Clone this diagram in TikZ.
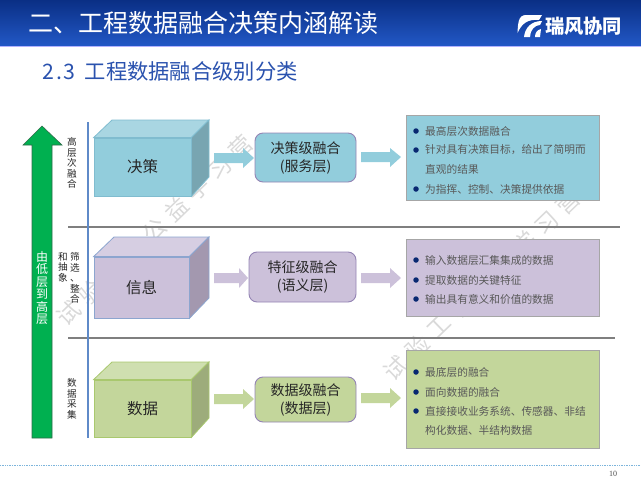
\documentclass[tikz,border=0pt]{standalone}
\usepackage{fontspec}
\usepackage{xcolor}
\setmainfont{Noto Sans CJK SC}
\newfontfamily\markfont[LetterSpace=30]{Noto Sans CJK SC}
\newfontfamily\numfont{Liberation Serif}
\usetikzlibrary{arrows.meta, positioning}
\definecolor{hdrtop}{HTML}{0A2F85}
\definecolor{hdrbot}{HTML}{2258C6}
\definecolor{subblue}{HTML}{2A52AE}
\definecolor{blueface}{HTML}{92CDDC}
\definecolor{bluetop}{HTML}{A9D6E2}
\definecolor{blueside}{HTML}{78A5B1}
\definecolor{blueedge}{HTML}{80BCCF}
\definecolor{purpface}{HTML}{CCC1DA}
\definecolor{purptop}{HTML}{D6CEE2}
\definecolor{purpside}{HTML}{A398AF}
\definecolor{purpedge}{HTML}{8CA5CF}
\definecolor{grnface}{HTML}{C3D69B}
\definecolor{grntop}{HTML}{CFDFB0}
\definecolor{grnside}{HTML}{9DAC7B}
\definecolor{grnedge}{HTML}{A9C86E}
\definecolor{rulegray}{HTML}{7F7F7F}
\definecolor{axisblue}{HTML}{5F8AC8}
\definecolor{upgreen}{HTML}{00B050}
\definecolor{upedge}{HTML}{2F6B4A}
\definecolor{footblue}{HTML}{7DB5DC}
\definecolor{levelpurp}{HTML}{9484B4}
\tikzset{
  cubeface/.style={draw, line width=0.8pt, inner sep=0pt, text=black!85,
    font=\fontsize{15.5}{18}\selectfont},
  levelbox/.style={draw=levelpurp, line width=0.9pt, rounded corners=8pt,
    inner sep=0pt, align=center, text=black!85, font=\fontsize{14}{18}\selectfont},
  notebox/.style={draw=black!35, line width=0.8pt, inner sep=0pt},
  noteline/.style={anchor=west, inner sep=0pt, text=black!65,
    font=\fontsize{10.7}{12}\selectfont},
  dotmark/.style={circle, fill=hdrtop!85!black, inner sep=0pt, minimum size=5.5pt},
  sidelabel/.style={align=center, inner sep=0pt, text=black!85,
    font=\fontsize{9.6}{10.6}\selectfont},
  stamp/.style={rotate=44, inner sep=0pt, text=black!15, font=\markfont\fontsize{23}{25}\selectfont},
}
\begin{document}
\begin{tikzpicture}[x=1pt, y=-1pt]
  \useasboundingbox (0,0) rectangle (641,482);
  % cabecalho
  \shade[top color=hdrtop, bottom color=hdrbot] (0,0) rectangle (641,46);
  \fill[blue!30!white] (0,46) rectangle (641,47);
  \node[anchor=west, inner sep=0pt, text=white, font=\fontsize{25}{26}\selectfont]
    (title) at (28,23.5) {二、工程数据融合决策内涵解读};
  \node[anchor=west, inner sep=0pt, text=subblue, font=\fontsize{21.3}{22}\selectfont]
    (subtitle) at (42,71) {2\hspace{2pt}.\hspace{2pt}3\hspace{9pt}工程数据融合级别分类};
  % marca
  \fill[white] (517.5,33) .. controls (518,24) and (518,15) .. (526,15) -- (542,15)
    -- (539,20) .. controls (528,19) and (522,23) .. (517.5,33) -- cycle;
  \fill[white] (524,37) .. controls (525,28) and (531,21) .. (542,21)
    -- (540,25) .. controls (535,25) and (530,30) .. (530,37) -- cycle;
  \fill[white] (535,37) .. controls (535,33) and (537,30) .. (541,29)
    -- (540,37) -- cycle;
  \node[anchor=west, inner sep=0pt, text=white, font=\bfseries\fontsize{19.2}{20}\selectfont]
    (brand) at (545,26) {瑞风协同};
  % marca d'agua
  \node[stamp] (stampa) at (155,230) {试验工程公益学习营};
  \node[stamp] (stampb) at (482,285) {试验工程公益学习营};
  % linhas
  \draw[rulegray, line width=2pt] (68,227) -- (620,227);
  \draw[rulegray, line width=2pt] (68,338) -- (615,338);
  \draw[axisblue, line width=1.3pt] (88,122) -- (88,438);
  % seta verde
  \draw[fill=upgreen, draw=upedge, line width=0.6pt]
    (32,438) -- (32,145) -- (23,145) -- (42,126) -- (62,145) -- (52,145) -- (52,438) -- cycle;
  \node[inner sep=0pt, align=center, text=white, font=\fontsize{12}{12.4}\selectfont]
    (uplabel) at (42,288) {由\\低\\层\\到\\高\\层};
  \node[sidelabel] (topnote) at (72,163) {高\\层\\次\\融\\合};
  \node[sidelabel] (midnotea) at (75,278) {筛\\选\\、\\整\\合};
  \node[sidelabel] (midnoteb) at (63,267) {和\\抽\\象};
  \node[sidelabel] (lownote) at (72,399) {数\\据\\采\\集};
  % cubo superior
  \node[cubeface, draw=blueedge, fill=blueface, minimum width=97pt, minimum height=58pt]
    (decide) at (142.5,167) {决策};
  \draw[blueedge, fill=bluetop, line width=0.8pt] (decide.north west) -- (112,120) -- (209,120) -- (decide.north east) -- cycle;
  \draw[blueedge, fill=blueside, line width=0.8pt] (decide.north east) -- (209,120) -- (209,177) -- (decide.south east) -- cycle;
  % cubo medio
  \node[cubeface, draw=purpedge, fill=purpface, minimum width=95pt, minimum height=61pt]
    (inform) at (141.5,287.5) {信息};
  \draw[purpedge, fill=purptop, line width=0.8pt] (inform.north west) -- (114,237) -- (209,237) -- (inform.north east) -- cycle;
  \draw[purpedge, fill=purpside, line width=0.8pt] (inform.north east) -- (209,237) -- (209,298) -- (inform.south east) -- cycle;
  % cubo inferior
  \node[cubeface, draw=grnedge, fill=grnface, minimum width=97pt, minimum height=57pt]
    (rawdata) at (142.5,408.5) {数据};
  \draw[grnedge, fill=grntop, line width=0.8pt] (rawdata.north west) -- (112,362) -- (209,362) -- (rawdata.north east) -- cycle;
  \draw[grnedge, fill=grnside, line width=0.8pt] (rawdata.north east) -- (209,362) -- (209,418) -- (rawdata.south east) -- cycle;
  % setas
  \fill[blueface] (214,153) -- (243,153) -- (243,148) -- (254,158) -- (243,168) -- (243,163) -- (214,163) -- cycle;
  \fill[purpface] (214,273) -- (239,273) -- (239,268) -- (248,278) -- (239,288) -- (239,283) -- (214,283) -- cycle;
  \fill[grnface] (214,394) -- (243,394) -- (243,389) -- (254,399) -- (243,409) -- (243,404) -- (214,404) -- cycle;
  \fill[blueface] (361,152) -- (390,152) -- (390,148) -- (401,157) -- (390,167) -- (390,162) -- (361,162) -- cycle;
  \fill[purpface] (361,273) -- (390,273) -- (390,268) -- (401,278) -- (390,288) -- (390,283) -- (361,283) -- cycle;
  \fill[grnface] (361,393) -- (390,393) -- (390,388) -- (401,398) -- (390,408) -- (390,403) -- (361,403) -- cycle;
  % niveis
  \node[levelbox, fill=blueface, minimum width=101pt, minimum height=49pt]
    (declevel) at (305.5,157.5) {决策级融合\\(服务层)};
  \node[levelbox, fill=purpface, minimum width=107pt, minimum height=50pt]
    (feature) at (302.5,277) {特征级融合\\(语义层)};
  \node[levelbox, fill=grnface, minimum width=101pt, minimum height=45pt]
    (datalevel) at (305.5,399.5) {数据级融合\\(数据层)};
  % quadros
  \node[notebox, fill=blueface, minimum width=193pt, minimum height=85pt] (notea) at (502.5,157.5) {};
  \node[notebox, fill=purpface, minimum width=193pt, minimum height=77pt] (noteb) at (502.5,277.5) {};
  \node[notebox, fill=grnface, minimum width=193pt, minimum height=98pt] (notec) at (502.5,399) {};
  \foreach \y in {131,150,189,260,280,299,372,392,411} {
    \node[dotmark] (dot\y) at (416,\y) {};
  }
  \node[noteline] (rowa) at (425,131) {最高层次数据融合};
  \node[noteline] (rowb) at (425,150) {针对具有决策目标，给出了简明而};
  \node[noteline] (rowc) at (425,169.5) {直观的结果};
  \node[noteline] (rowd) at (425,189) {为指挥、控制、决策提供依据};
  \node[noteline] (rowe) at (425,260) {输入数据层汇集集成的数据};
  \node[noteline] (rowf) at (425,280) {提取数据的关键特征};
  \node[noteline] (rowg) at (425,299) {输出具有意义和价值的数据};
  \node[noteline] (rowh) at (425,372) {最底层的融合};
  \node[noteline] (rowi) at (425,392) {面向数据的融合};
  \node[noteline] (rowj) at (425,411) {直接接收业务系统、传感器、非结};
  \node[noteline] (rowk) at (425,430) {构化数据、半结构数据};
  % rodape
  \draw[footblue, densely dotted, line width=0.7pt] (0,465) -- (641,465);
  \node[inner sep=0pt, text=black!70, font=\numfont\fontsize{8}{9}\selectfont] (pageno) at (613,474) {10};
\end{tikzpicture}
\end{document}
